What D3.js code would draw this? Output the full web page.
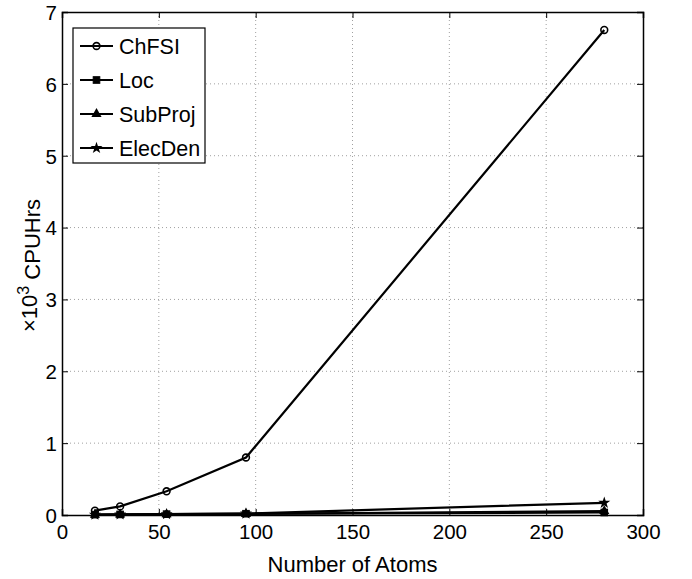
<!DOCTYPE html>
<html><head><meta charset="utf-8">
<script src="https://cdn.jsdelivr.net/npm/d3@7"></script>
<style>
body{margin:0;background:#fff;}
text{font-family:"Liberation Sans",Arial,Helvetica,sans-serif;fill:#000;}
</style></head>
<body><svg id="c" width="692" height="579"></svg>
<script>
const atoms = [17, 30, 54, 95, 280];
const seriesNames = ["ChFSI", "Loc", "SubProj", "ElecDen"];
const chfsi   = [0.06, 0.12, 0.33, 0.80, 6.75];
const loc     = [0.005, 0.008, 0.012, 0.018, 0.035];
const subproj = [0.003, 0.005, 0.009, 0.014, 0.055];
const elecden = [0.004, 0.007, 0.011, 0.02, 0.17];
const xTicks = [0, 50, 100, 150, 200, 250, 300];
const yTicks = [0, 1, 2, 3, 4, 5, 6, 7];
const markerTypes = ["circle", "square", "triangle", "star"];

const svg = d3.select("#c");
const L = 62, R = 643, T = 12, B = 515;
const x = d3.scaleLinear().domain([0, 300]).range([L, R]);
const y = d3.scaleLinear().domain([0, 7]).range([B, T]);

// grid
const g = svg.append("g");
xTicks.slice(1, -1).forEach(t => g.append("line").attr("x1", x(t)).attr("x2", x(t)).attr("y1", T).attr("y2", B)
  .attr("stroke", "#a0a0a0").attr("stroke-width", 1).attr("stroke-dasharray", "1,3"));
yTicks.slice(1, -1).forEach(t => g.append("line").attr("x1", L).attr("x2", R).attr("y1", y(t)).attr("y2", y(t))
  .attr("stroke", "#a0a0a0").attr("stroke-width", 1).attr("stroke-dasharray", "1,3"));

// axes
const xa = svg.append("g").attr("transform", `translate(0,${B})`)
  .call(d3.axisBottom(x).tickValues(xTicks).tickSize(-6).tickPadding(8).tickFormat(d3.format("d")));
const xa2 = svg.append("g").attr("transform", `translate(0,${T})`)
  .call(d3.axisTop(x).tickValues(xTicks).tickSize(-6).tickFormat(""));
const ya = svg.append("g").attr("transform", `translate(${L},0)`)
  .call(d3.axisLeft(y).tickValues(yTicks).tickSize(-6).tickPadding(5).tickFormat(d3.format("d")));
const ya2 = svg.append("g").attr("transform", `translate(${R},0)`)
  .call(d3.axisRight(y).tickValues(yTicks).tickSize(-6).tickFormat(""));
[xa, xa2, ya, ya2].forEach(a => {
  a.select(".domain").attr("stroke", "#000").attr("stroke-width", 1.5);
  a.selectAll(".tick line").attr("stroke", "#000");
  a.selectAll("text").style("font-size", "20.5px").attr("fill", "#000");
});
xa.selectAll("text").attr("dy", "0.78em");
ya.selectAll("text").attr("dy", "0.36em");

// labels
svg.append("text").attr("x", (L + R) / 2).attr("y", 572).attr("text-anchor", "middle")
  .style("font-size", "22px").text("Number of Atoms");
const yl = svg.append("text").attr("transform", `translate(37,${(T + B) / 2 + 2}) rotate(-90)`)
  .attr("text-anchor", "middle").style("font-size", "22px");
yl.append("tspan").text("×10");
yl.append("tspan").attr("dy", "-0.5em").style("font-size", "16px").text("3");
yl.append("tspan").attr("dy", "0.5em").text(" CPUHrs");

// markers
function drawMarker(sel, type, cx, cy) {
  if (type === "circle") {
    sel.append("circle").attr("cx", cx).attr("cy", cy).attr("r", 3.4)
      .attr("fill", "none").attr("stroke", "#000").attr("stroke-width", 1.6);
  } else if (type === "square") {
    sel.append("rect").attr("x", cx - 3.3).attr("y", cy - 3.3).attr("width", 6.6).attr("height", 6.6)
      .attr("fill", "#000").attr("stroke", "#000").attr("stroke-width", 1);
  } else if (type === "triangle") {
    sel.append("path").attr("transform", `translate(${cx},${cy})`)
      .attr("d", d3.symbol(d3.symbolTriangle, 45)()).attr("fill", "#000");
  } else {
    sel.append("path").attr("transform", `translate(${cx},${cy})`)
      .attr("d", d3.symbol(d3.symbolStar, 45)()).attr("fill", "#000");
  }
}

const allSeries = [chfsi, loc, subproj, elecden];
const line = d3.line().x((d, i) => x(atoms[i])).y(d => y(d));
const dg = svg.append("g");
allSeries.forEach((vals, k) => {
  dg.append("path").datum(vals).attr("d", line).attr("fill", "none")
    .attr("stroke", "#000").attr("stroke-width", 2.2);
});
allSeries.forEach((vals, k) => {
  vals.forEach((v, i) => drawMarker(dg, markerTypes[k], x(atoms[i]), y(v)));
});

// legend
const lg = svg.append("g");
lg.append("rect").attr("x", 73).attr("y", 28).attr("width", 132).attr("height", 135)
  .attr("fill", "#fff").attr("stroke", "#000").attr("stroke-width", 1.2);
seriesNames.forEach((n, k) => {
  const yy = 46 + k * 34;
  lg.append("line").attr("x1", 80).attr("x2", 113).attr("y1", yy).attr("y2", yy)
    .attr("stroke", "#000").attr("stroke-width", 2.2);
  drawMarker(lg, markerTypes[k], 96.5, yy);
  lg.append("text").attr("x", 119).attr("y", yy).attr("dy", "0.36em").style("font-size", "21.5px").text(n);
});
</script></body></html>
